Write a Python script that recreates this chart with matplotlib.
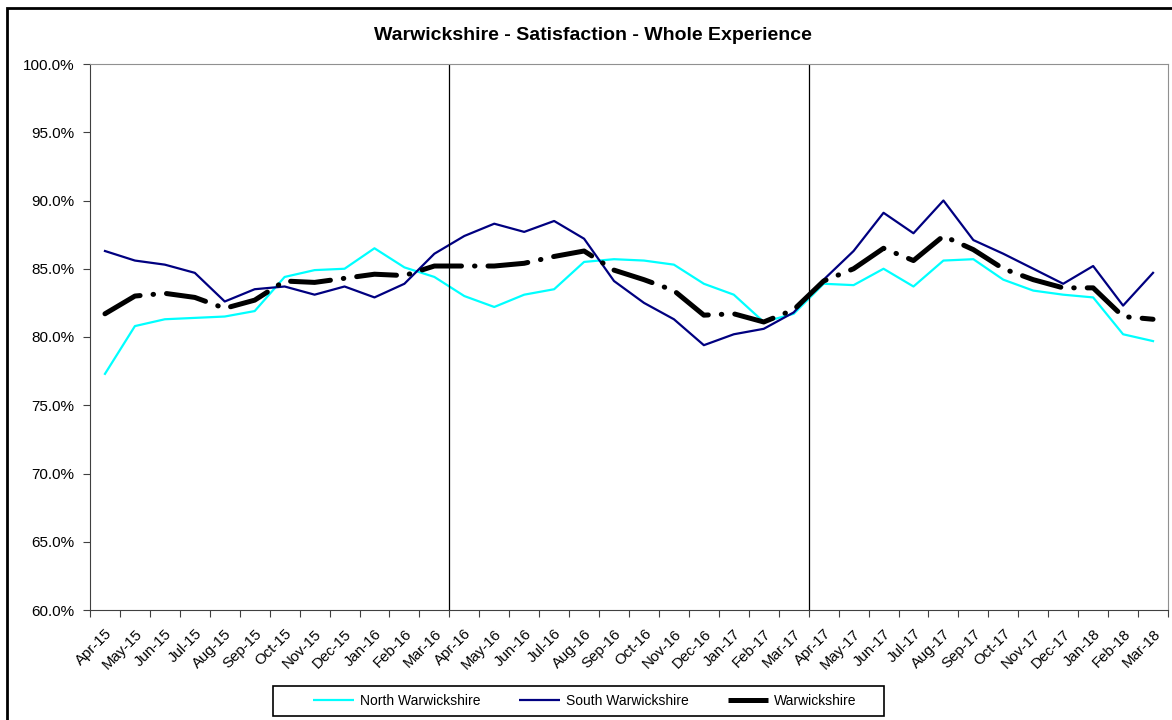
import numpy as np
import matplotlib
matplotlib.use("Agg")
import matplotlib.pyplot as plt
from matplotlib.lines import Line2D
from matplotlib.patches import Rectangle
from matplotlib.ticker import FuncFormatter

plt.rcParams['font.family'] = ['Liberation Sans', 'DejaVu Sans']

# months Apr-15 .. Mar-18
meses = ['Apr-15', 'May-15', 'Jun-15', 'Jul-15', 'Aug-15', 'Sep-15', 'Oct-15', 'Nov-15',
         'Dec-15', 'Jan-16', 'Feb-16', 'Mar-16', 'Apr-16', 'May-16', 'Jun-16', 'Jul-16',
         'Aug-16', 'Sep-16', 'Oct-16', 'Nov-16', 'Dec-16', 'Jan-17', 'Feb-17', 'Mar-17',
         'Apr-17', 'May-17', 'Jun-17', 'Jul-17', 'Aug-17', 'Sep-17', 'Oct-17', 'Nov-17',
         'Dec-17', 'Jan-18', 'Feb-18', 'Mar-18']

norte = [77.3, 80.8, 81.3, 81.4, 81.5, 81.9, 84.4, 84.9, 85.0, 86.5, 85.1, 84.4,
         83.0, 82.2, 83.1, 83.5, 85.5, 85.7, 85.6, 85.3, 83.9, 83.1, 81.1, 81.7,
         83.9, 83.8, 85.0, 83.7, 85.6, 85.7, 84.2, 83.4, 83.1, 82.9, 80.2, 79.7]

sur = [86.3, 85.6, 85.3, 84.7, 82.6, 83.5, 83.7, 83.1, 83.7, 82.9, 83.9, 86.1,
       87.4, 88.3, 87.7, 88.5, 87.2, 84.1, 82.5, 81.3, 79.4, 80.2, 80.6, 81.8,
       84.2, 86.3, 89.1, 87.6, 90.0, 87.1, 86.1, 85.0, 83.9, 85.2, 82.3, 84.7]

total = [81.7, 83.0, 83.2, 82.9, 82.1, 82.7, 84.1, 84.0, 84.3, 84.6, 84.5, 85.2,
         85.2, 85.2, 85.4, 85.9, 86.3, 84.9, 84.2, 83.4, 81.6, 81.7, 81.1, 82.0,
         84.1, 85.0, 86.5, 85.6, 87.4, 86.4, 85.0, 84.2, 83.6, 83.6, 81.5, 81.3]

x = np.arange(len(meses))

fig = plt.figure(figsize=(11.72, 7.2), dpi=100)
ax = fig.add_axes([90 / 1172, 1 - 610 / 720, 1078 / 1172, 546 / 720])

ax.plot(x, norte, color='#00FFFF', lw=1.6)
ax.plot(x, sur, color='#000080', lw=1.6)
ax.plot(x, total, color='black', lw=3.6, linestyle=(0, (8, 2.6, 0.1, 2.6)),
        dash_capstyle='round')

# separadores de año
for xv in [11.5, 23.5]:
    ax.axvline(xv, color='black', lw=0.9)

ax.set_xlim(-0.5, len(meses) - 0.5)
ax.set_ylim(60, 100)
ax.set_yticks(np.arange(60, 100.1, 5))
ax.yaxis.set_major_formatter(FuncFormatter(lambda v, p: f'{v:.1f}%'))

ax.set_xticks(np.arange(-0.5, len(meses), 1))
ax.set_xticklabels([])
ax.set_xticks(x, minor=True)
ax.set_xticklabels(meses, minor=True, rotation=45, ha='right', rotation_mode='anchor')
ax.tick_params(axis='x', which='minor', length=0, pad=12, labelsize=10.8)
ax.tick_params(axis='x', which='major', length=5, direction='out', color='#404040')
ax.tick_params(axis='y', length=5, labelsize=11, color='#404040', pad=6)

ax.spines['left'].set_color('#404040')
ax.spines['bottom'].set_color('#404040')
ax.spines['top'].set_color('#909090')
ax.spines['right'].set_color('#909090')

fig.text(593 / 1172, 1 - 36 / 720, 'Warwickshire - Satisfaction - Whole Experience',
         ha='center', va='center', fontsize=14, fontweight='bold')

# leyenda
manijas = [Line2D([], [], color='#00FFFF', lw=1.6, solid_capstyle='butt'),
           Line2D([], [], color='#000080', lw=1.6, solid_capstyle='butt'),
           Line2D([], [], color='black', lw=3.6, solid_capstyle='butt')]
fig.legend(manijas, ['North Warwickshire', 'South Warwickshire', 'Warwickshire'],
           loc='center', bbox_to_anchor=(585 / 1172, 1 - 701 / 720), ncol=3,
           frameon=False, fontsize=10, handlelength=2.9, handletextpad=0.45,
           columnspacing=2.8)
fig.patches.append(Rectangle((273 / 1172, 1 - 716 / 720), 611 / 1172, 30 / 720,
                             transform=fig.transFigure, fill=False,
                             edgecolor='black', lw=1.2))

# borde exterior
fig.patches.append(Rectangle((7 / 1172, -0.05), 1.2, 1 - 8 / 720 + 0.05,
                             transform=fig.transFigure, fill=False,
                             edgecolor='black', lw=2))

fig.savefig('out.png', dpi=100)
